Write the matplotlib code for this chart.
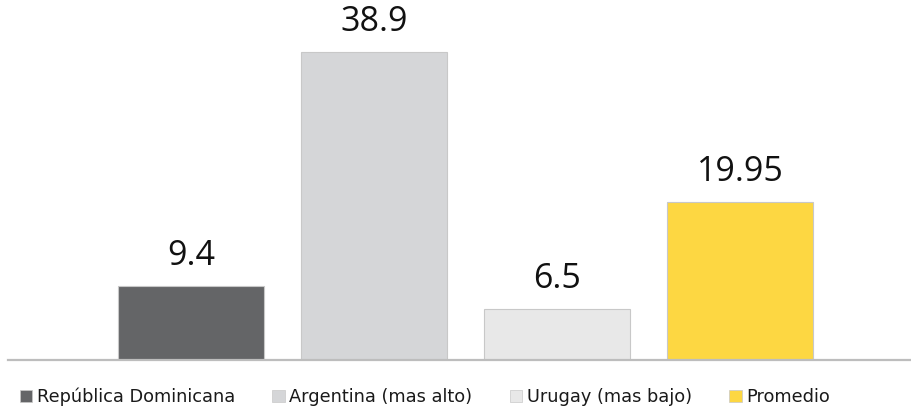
import matplotlib.pyplot as plt
from matplotlib.patches import Patch

# datos
paises = ["República Dominicana", "Argentina (mas alto)", "Urugay (mas bajo)", "Promedio"]
valores = [9.4, 38.9, 6.5, 19.95]
etiquetas = ["9.4", "38.9", "6.5", "19.95"]
colores = ["#646567", "#d5d6d8", "#e8e8e8", "#fdd742"]


def main():
    fig = plt.figure(figsize=(9.12, 4.12), dpi=100)
    ax = fig.add_axes([8 / 912, 52 / 412, 904 / 912, 360 / 412])
    x = range(len(valores))
    ax.bar(x, valores, width=0.8, color=colores, edgecolor="#c8c8c8", linewidth=0.8, zorder=2)
    for xi, v, t in zip(x, valores, etiquetas):
        ax.annotate(t, (xi, v), xytext=(0, 9), textcoords="offset points",
                    ha="center", va="bottom", fontsize=24.5, family="Open Sans", color="#111111")
    ax.set_xlim(-1, 3.94)
    ax.set_ylim(0, 360 / 7.92)
    for s in ["top", "right", "left"]:
        ax.spines[s].set_visible(False)
    ax.spines["bottom"].set_color("#bdbdbd")
    ax.spines["bottom"].set_linewidth(1.6)
    ax.set_xticks([])
    ax.set_yticks([])

    handles = [Patch(facecolor=c, edgecolor="#c8c8c8", linewidth=0.5) for c in colores]
    fig.legend(handles, paises, loc="center left", bbox_to_anchor=(20 / 912, 15 / 412),
               ncol=4, frameon=False, fontsize=12.8, handlelength=0.7, handleheight=0.7,
               handletextpad=0.25, columnspacing=2.1, borderpad=0, borderaxespad=0,
               labelcolor="#1a1a1a")
    fig.savefig("out.png", dpi=100)


if __name__ == "__main__":
    main()
